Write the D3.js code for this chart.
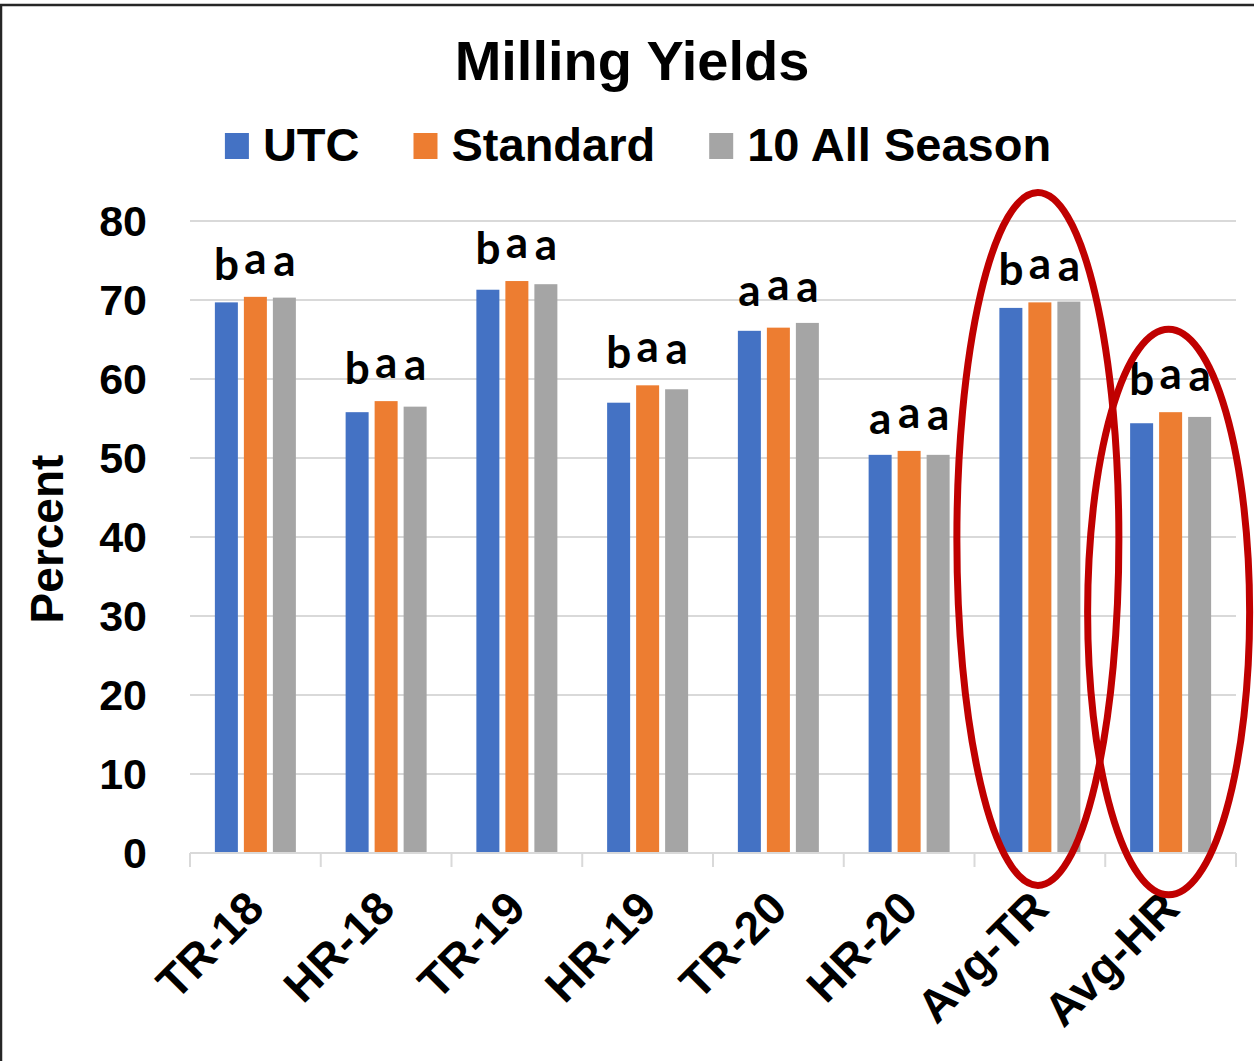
<!DOCTYPE html>
<html>
<head>
<meta charset="utf-8">
<script src="https://cdn.jsdelivr.net/npm/d3@7"></script>
<style>
  body { margin: 0; background: #fff; }
  text { font-family: "Liberation Sans", Arial, sans-serif; font-weight: bold; fill: #000; }
  .sig { font-family: Lato, "Open Sans", sans-serif; font-weight: 700; }
</style>
</head>
<body>
<div id="chart"></div>
<script>
// categories and series
const categories = ["TR-18", "HR-18", "TR-19", "HR-19", "TR-20", "HR-20", "Avg-TR", "Avg-HR"];
const seriesNames = ["UTC", "Standard", "10 All Season"];
const seriesColors = ["#4472C4", "#ED7D31", "#A5A5A5"];

// values
const utcValues = [69.7, 55.8, 71.3, 57.0, 66.1, 50.4, 69.0, 54.4];
const standardValues = [70.4, 57.2, 72.4, 59.2, 66.5, 50.9, 69.7, 55.8];
const allSeasonValues = [70.3, 56.5, 72.0, 58.7, 67.1, 50.4, 69.8, 55.2];

// significance letters per category
const sigLetters = [
  ["b", "a", "a"], ["b", "a", "a"], ["b", "a", "a"], ["b", "a", "a"],
  ["a", "a", "a"], ["a", "a", "a"], ["b", "a", "a"], ["b", "a", "a"],
];

const yTicks = [0, 10, 20, 30, 40, 50, 60, 70, 80];

// highlighted groups (value span of each ring)
const highlights = [
  { category: "Avg-TR", top: 83.6, bottom: -4.1 },
  { category: "Avg-HR", top: 66.3, bottom: -5.3 },
];

const width = 1254;
const height = 1061;
const plot = { left: 190, right: 1236, top: 221, bottom: 853 };

const svg = d3.select("#chart")
  .append("svg")
  .attr("width", width)
  .attr("height", height);

// outer frame
svg.append("rect")
  .attr("x", 1)
  .attr("y", 5)
  .attr("width", width + 10)
  .attr("height", height + 10)
  .attr("fill", "none")
  .attr("stroke", "#262626")
  .attr("stroke-width", 2.5);

// scales
const x0 = d3.scaleBand().domain(categories).range([plot.left, plot.right]);
const x1 = d3.scaleBand().domain(seriesNames).range([0, 81]).paddingInner(6 / 29);
const groupOffset = (x0.bandwidth() - 81) / 2;
const y = d3.scaleLinear().domain([0, 80]).range([plot.bottom, plot.top]);

// gridlines
svg.append("g")
  .selectAll("line")
  .data(yTicks.filter((d) => d > 0))
  .enter()
  .append("line")
  .attr("x1", plot.left)
  .attr("x2", plot.right)
  .attr("y1", (d) => y(d))
  .attr("y2", (d) => y(d))
  .attr("stroke", "#d9d9d9")
  .attr("stroke-width", 2);

// y axis labels
svg.append("g")
  .selectAll("text")
  .data(yTicks)
  .enter()
  .append("text")
  .attr("x", 147)
  .attr("y", (d) => y(d))
  .attr("dy", "0.36em")
  .attr("text-anchor", "end")
  .style("font-size", "43px")
  .text((d) => d);

// bars
const rows = categories.map((c, i) => ({
  category: c,
  values: [utcValues[i], standardValues[i], allSeasonValues[i]],
  letters: sigLetters[i],
}));

const groups = svg.append("g")
  .selectAll("g")
  .data(rows)
  .enter()
  .append("g")
  .attr("transform", (d) => `translate(${x0(d.category) + groupOffset},0)`);

groups.selectAll("rect")
  .data((d) => d.values.map((v, j) => ({ series: seriesNames[j], value: v, color: seriesColors[j] })))
  .enter()
  .append("rect")
  .attr("x", (d) => x1(d.series))
  .attr("y", (d) => y(d.value))
  .attr("width", x1.bandwidth())
  .attr("height", (d) => y(0) - y(d.value))
  .attr("fill", (d) => d.color);

// significance letters
const letterRaise = [0, -6, -4];
groups.selectAll("text")
  .data((d) => d.letters.map((l, j) => ({ letter: l, series: seriesNames[j], max: d3.max(d.values), j })))
  .enter()
  .append("text")
  .attr("class", "sig")
  .attr("x", (d) => x1(d.series) + x1.bandwidth() / 2)
  .attr("y", (d) => y(d.max) - 17 + letterRaise[d.j])
  .attr("text-anchor", "middle")
  .style("font-size", "44px")
  .text((d) => d.letter);

// x axis line and ticks
const xAxis = svg.append("g");
xAxis.append("line")
  .attr("x1", plot.left)
  .attr("x2", plot.right)
  .attr("y1", y(0))
  .attr("y2", y(0))
  .attr("stroke", "#d9d9d9")
  .attr("stroke-width", 2);

xAxis.selectAll("line.tick")
  .data(categories.map((c) => x0(c)).concat([plot.right]))
  .enter()
  .append("line")
  .attr("class", "tick")
  .attr("x1", (d) => d)
  .attr("x2", (d) => d)
  .attr("y1", y(0))
  .attr("y2", y(0) + 14)
  .attr("stroke", "#d9d9d9")
  .attr("stroke-width", 2);

// rotated category labels
xAxis.selectAll("text")
  .data(categories)
  .enter()
  .append("text")
  .attr("text-anchor", "end")
  .attr("transform", (d) => `translate(${x0(d) + x0.bandwidth() / 2 + 11},${y(0) + 58}) rotate(-45)`)
  .style("font-size", "46px")
  .text((d) => d);

// y axis title
svg.append("text")
  .attr("transform", `translate(63,${(plot.top + plot.bottom) / 2 + 2}) rotate(-90)`)
  .attr("text-anchor", "middle")
  .style("font-size", "46px")
  .text("Percent");

// title
svg.append("text")
  .attr("x", 632)
  .attr("y", 80)
  .attr("text-anchor", "middle")
  .style("font-size", "56px")
  .text("Milling Yields");

// legend
const legend = svg.append("g");
const items = legend.selectAll("g")
  .data(seriesNames)
  .enter()
  .append("g");

items.append("rect")
  .attr("width", 24)
  .attr("height", 26)
  .attr("y", 133)
  .attr("fill", (d, i) => seriesColors[i]);

items.append("text")
  .attr("x", 38)
  .attr("y", 161)
  .style("font-size", "47px")
  .text((d) => d);

let cursor = 0;
const itemWidths = [];
items.each(function () {
  itemWidths.push(38 + d3.select(this).select("text").node().getComputedTextLength());
});
const totalWidth = d3.sum(itemWidths) + 54 * (itemWidths.length - 1);
cursor = 638 - totalWidth / 2;
items.attr("transform", (d, i) => {
  const tx = cursor;
  cursor += itemWidths[i] + 54;
  return `translate(${tx},0)`;
});

// red highlight rings
svg.append("g")
  .selectAll("ellipse")
  .data(highlights)
  .enter()
  .append("ellipse")
  .attr("cx", (d) => x0(d.category) + x0.bandwidth() / 2 - 2)
  .attr("cy", (d) => (y(d.top) + y(d.bottom)) / 2)
  .attr("rx", 81)
  .attr("ry", (d) => (y(d.bottom) - y(d.top)) / 2)
  .attr("fill", "none")
  .attr("stroke", "#C00000")
  .attr("stroke-width", 7);
</script>
</body>
</html>
